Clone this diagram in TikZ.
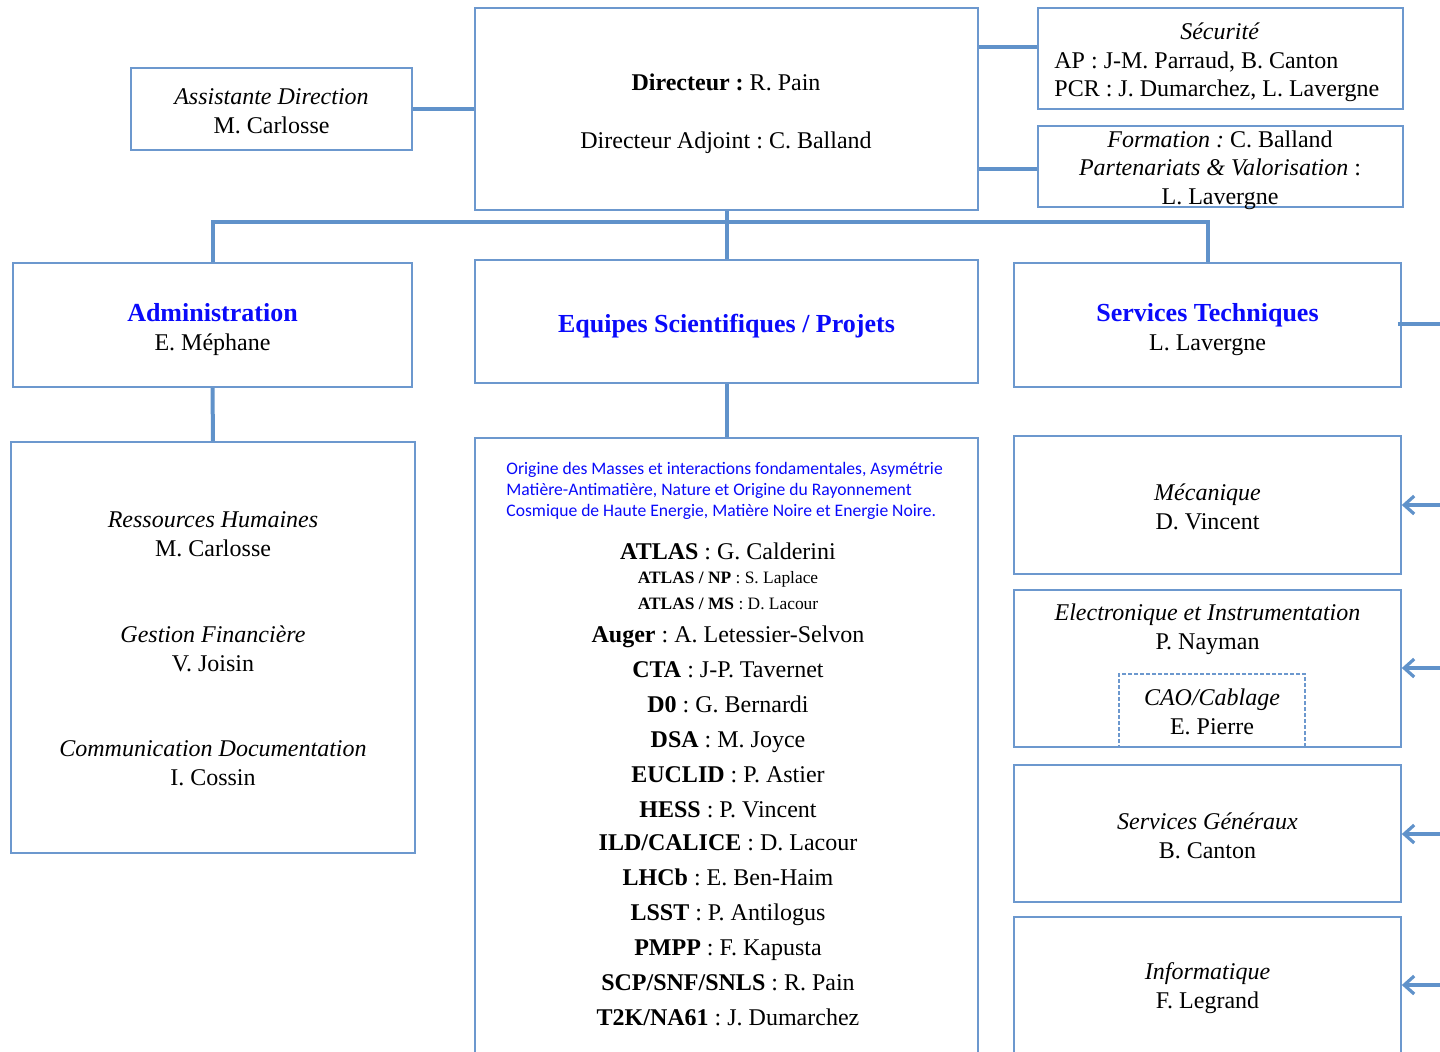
\documentclass[tikz,border=0pt]{standalone}
\usepackage{fontspec}
\setmainfont{Liberation Serif}
\newfontfamily\cali{Carlito}
\usetikzlibrary{arrows.meta}
\definecolor{boxc}{RGB}{108,152,206}
\definecolor{connc}{RGB}{96,146,202}
\definecolor{headc}{RGB}{10,10,250}
\frenchspacing
\begin{document}
\begin{tikzpicture}[x=0.5pt,y=-0.5pt,
  box/.style={draw=boxc, line width=0.8pt, inner sep=0pt, fill=none},
  dbox/.style={draw=boxc, line width=0.7pt, dashed, dash pattern=on 2pt off 1pt, inner sep=0pt},
  conn/.style={draw=connc, line width=2pt},
  arr/.style={draw=connc, line width=2pt, -{Straight Barb[length=5pt,width=9pt,line width=1.6pt]}},
  txt/.style={inner sep=0pt, align=center, font=\frenchspacing\fontsize{12}{14.3}\selectfont},
  ln/.style={inner sep=0pt, anchor=base, font=\frenchspacing\fontsize{12}{14.3}\selectfont},
  head/.style={inner sep=0pt, anchor=base, text=headc, font=\fontsize{13}{15}\selectfont\bfseries},
  small/.style={inner sep=0pt, anchor=base, font=\frenchspacing\fontsize{8.7}{10}\selectfont},
  blue para/.style={inner sep=0pt, align=left, text=headc, font=\frenchspacing\cali\fontsize{8.8}{10.5}\selectfont}
]
\useasboundingbox (0,0) rectangle (1440,1051);
\clip (0,0) rectangle (1440,1051);

% boxes
\node[box, minimum width=251.5pt, minimum height=101pt] (dir) at (726.5,109) {};
\node[box, minimum width=140.5pt, minimum height=41pt] (asst) at (271.5,109) {};
\node[box, minimum width=182.5pt, minimum height=50.5pt] (secu) at (1220.5,58.5) {};
\node[box, minimum width=182.5pt, minimum height=40.5pt] (form) at (1220.5,166.5) {};
\node[box, minimum width=199.5pt, minimum height=62pt] (admin) at (212.5,325) {};
\node[box, minimum width=251.5pt, minimum height=61.5pt] (equip) at (726.5,321.5) {};
\node[box, minimum width=193.5pt, minimum height=62pt] (serv) at (1207.5,325) {};
\node[box, minimum width=202pt, minimum height=205.5pt] (adsub) at (213,647.5) {};
\node[box, minimum width=251.5pt, minimum height=316pt] (proj) at (726.5,754) {};
\node[box, minimum width=193.5pt, minimum height=69pt] (meca) at (1207.5,505) {};
\node[box, minimum width=193.5pt, minimum height=78.5pt] (elec) at (1207.5,668.5) {};
\node[dbox, minimum width=93pt, minimum height=36.5pt] (cao) at (1212,710.5) {};
\node[box, minimum width=193.5pt, minimum height=68.5pt] (sg) at (1207.5,833.5) {};
\node[box, minimum width=193.5pt, minimum height=76.5pt] (info) at (1207.5,993.5) {};

% connectors
\coordinate (bus) at (726,222);
\coordinate (c1) at (1000,47);
\coordinate (c2) at (1000,169);
\coordinate (st) at (1440,324);
\coordinate (e1) at (1440,505);
\coordinate (e2) at (1440,668);
\coordinate (e3) at (1440,834);
\coordinate (e4) at (1440,985);
\draw[conn] (asst.east) -- (dir.west);
\draw[conn] (dir.east |- c1) -- (secu.west |- c1);
\draw[conn] (dir.east |- c2) -- (form.west |- c2);
\draw[conn] (dir.south) -- (equip.north);
\draw[conn] (admin.north) |- (bus) -| (serv.north);
\draw[conn] (admin.south) -- (adsub.north);
\draw[conn] (equip.south) -- (proj.north);
\draw[conn] ([xshift=-2pt]serv.east |- st) -- (st);
\draw[arr] (e1) -- (meca.east |- e1);
\draw[arr] (e2) -- (elec.east |- e2);
\draw[arr] (e3) -- (sg.east |- e3);
\draw[arr] (e4) -- (info.east |- e4);

% texts top
\node[ln] (t1) at (726,90) {\textbf{Directeur :} R. Pain};
\node[ln] (t2) at (726,148) {Directeur Adjoint : C. Balland};
\node[txt] (t3) at (271.5,111) {\textit{Assistante Direction}\\M. Carlosse};
\node[ln] (t4) at (1220,39) {\textit{Sécurité}};
\node[ln, anchor=base west] (t5) at (1054,68) {AP : J-M. Parraud, B. Canton};
\node[ln, anchor=base west] (t6) at (1054,96) {PCR : J. Dumarchez, L. Lavergne};
\node[ln] (t7) at (1220,147) {\textit{Formation :} C. Balland};
\node[ln] (t8) at (1220,175) {\textit{Partenariats \& Valorisation} :};
\node[ln] (t9) at (1220,204) {L. Lavergne};

% headings
\node[head] (h1) at (212.5,321) {Administration};
\node[ln] (h1b) at (212.5,350) {E. Méphane};
\node[head] (h2) at (726.5,332) {Equipes Scientifiques / Projets};
\node[head] (h3) at (1207.5,321) {Services Techniques};
\node[ln] (h3b) at (1207.5,350) {L. Lavergne};

% admin sub
\node[txt] (a1) at (213,534) {\textit{Ressources Humaines}\\M. Carlosse};
\node[txt] (a2) at (213,649) {\textit{Gestion Financière}\\V. Joisin};
\node[txt] (a3) at (213,763) {\textit{Communication Documentation}\\I. Cossin};

% services
\node[txt] (s1) at (1207.5,507) {\textit{Mécanique}\\D. Vincent};
\node[txt] (s2) at (1207.5,629) {\textit{Electronique et Instrumentation}\\P. Nayman};
\node[txt] (s3) at (1212,712) {\textit{CAO/Cablage}\\E. Pierre};
\node[txt] (s4) at (1207.5,836) {\textit{Services Généraux}\\B. Canton};
\node[txt] (s5) at (1207.5,988) {\textit{Informatique}\\F. Legrand};

% projects
\node[blue para, anchor=west] (bp) at (506,491) {Origine des Masses et interactions fondamentales, Asymétrie\\Matière-Antimatière, Nature et Origine du Rayonnement\\Cosmique de Haute Energie, Matière Noire et Energie Noire.};
\node[ln] (p1) at (728,559) {\textbf{ATLAS} : G. Calderini};
\node[small] (p2) at (728,583.5) {\textbf{ATLAS / NP} : S. Laplace};
\node[small] (p3) at (728,609.5) {\textbf{ATLAS / MS} : D. Lacour};
\node[ln] (p4) at (728,642) {\textbf{Auger} : A. Letessier-Selvon};
\node[ln] (p5) at (728,677) {\textbf{CTA} : J-P. Tavernet};
\node[ln] (p6) at (728,712) {\textbf{D0} : G. Bernardi};
\node[ln] (p7) at (728,747) {\textbf{DSA} : M. Joyce};
\node[ln] (p8) at (728,782) {\textbf{EUCLID} : P. Astier};
\node[ln] (p9) at (728,817) {\textbf{HESS} : P. Vincent};
\node[ln] (p10) at (728,850) {\textbf{ILD/CALICE} : D. Lacour};
\node[ln] (p11) at (728,885) {\textbf{LHCb} : E. Ben-Haim};
\node[ln] (p12) at (728,920) {\textbf{LSST} : P. Antilogus};
\node[ln] (p13) at (728,955) {\textbf{PMPP} : F. Kapusta};
\node[ln] (p14) at (728,990) {\textbf{SCP/SNF/SNLS} : R. Pain};
\node[ln] (p15) at (728,1025) {\textbf{T2K/NA61} : J. Dumarchez};
\end{tikzpicture}
\end{document}
